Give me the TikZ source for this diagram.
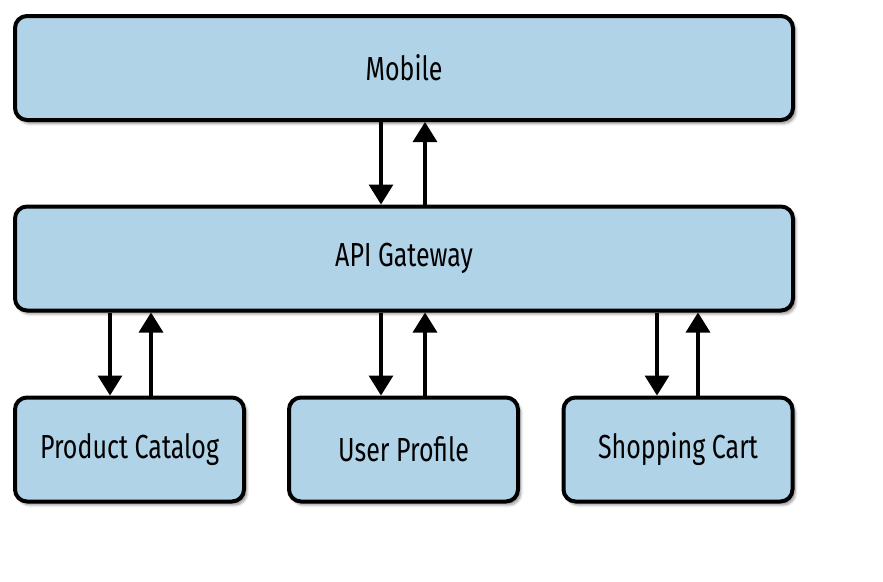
\documentclass[tikz,border=0pt]{standalone}
\usepackage{fontspec}
\setmainfont[FakeStretch=0.75]{Fira Sans}
\usetikzlibrary{arrows.meta,shadows.blur}
\definecolor{boxblue}{HTML}{B0D3E8}
\begin{document}
\begin{tikzpicture}[x=0.75pt, y=-0.75pt,
    box/.style={draw=black, fill=boxblue, line width=3pt, rounded corners=9pt,
        blur shadow={shadow xshift=2pt, shadow yshift=-2.5pt, shadow blur steps=6, shadow opacity=45},
        minimum height=78pt, font=\fontsize{25}{30}\selectfont, inner sep=0pt},
    link/.style={-{Triangle[width=18pt, length=15pt]}, line width=2.4pt}]
    \useasboundingbox (0,0) rectangle (883,582);

    \node[box, minimum width=583.5pt] (M) at (404,68) {Mobile};
    \node[box, minimum width=583.5pt] (G) at (404,258.5) {API Gateway};

    \node[box, minimum width=171.75pt] (P) at (129.5,449.5) {Product Catalog};
    \node[box, minimum width=171.75pt] (U) at (403.5,449.5) {User Profile};
    \node[box, minimum width=171.75pt] (S) at (678,449.5) {Shopping Cart};

    \draw[link] (M.south -| 381,0) to (G.north -| 381,0);
    \draw[link] (G.north -| 425,0) to (M.south -| 425,0);

    \draw[link] (G.south -| 110,0) to (P.north -| 110,0);
    \draw[link] (P.north -| 151,0) to (G.south -| 151,0);
    \draw[link] (G.south -| 381,0) to (U.north -| 381,0);
    \draw[link] (U.north -| 425,0) to (G.south -| 425,0);
    \draw[link] (G.south -| 657,0) to (S.north -| 657,0);
    \draw[link] (S.north -| 698,0) to (G.south -| 698,0);
\end{tikzpicture}
\end{document}
